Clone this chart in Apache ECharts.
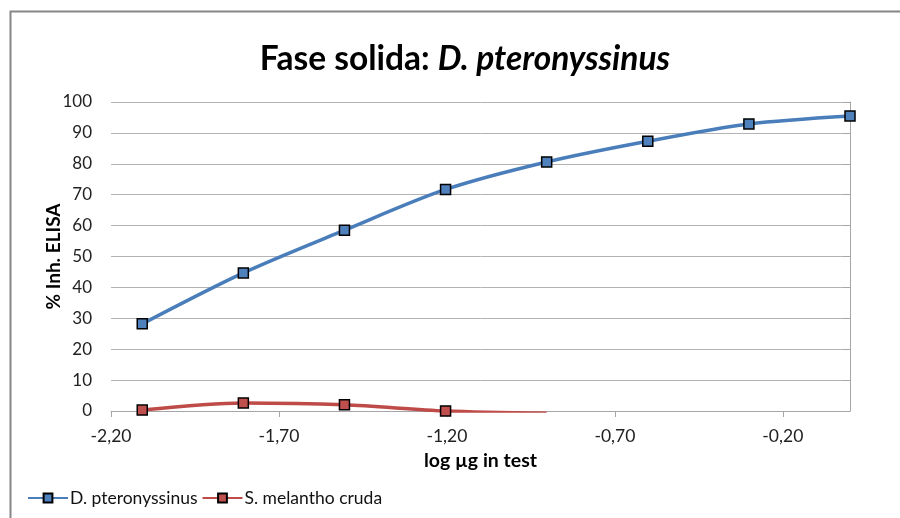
<!DOCTYPE html>
<html>
<head>
<meta charset="utf-8">
<script src="https://cdn.jsdelivr.net/npm/echarts@6/dist/echarts.min.js"></script>
<style>html,body{margin:0;padding:0;background:#fff;}#c{width:900px;height:518px;}</style>
</head>
<body>
<div id="c"></div>
<script>
var xValues = [-2.107, -1.806, -1.505, -1.204, -0.903, -0.602, -0.301, 0];
var dpValues = [28.2, 44.7, 58.5, 71.7, 80.6, 87.3, 92.9, 95.5];
var smValues = [0.3, 2.6, 2.0, 0, -0.7];
var xTicks = [-2.2, -1.7, -1.2, -0.7, -0.2];
var seriesNames = ['D. pteronyssinus', 'S. melantho cruda'];

function pairs(xs, ys) { return ys.map(function (y, i) { return [xs[i], y]; }); }

var FONT = 'Lato, "Open Sans", sans-serif';
var chart = echarts.init(document.getElementById('c'), null, { renderer: 'canvas' });
chart.setOption({
  animation: false,
  backgroundColor: '#fff',
  graphic: [{
    type: 'rect', left: 8, top: 9, shape: { x: 0, y: 0, width: 1000, height: 1000 },
    style: { fill: 'none', stroke: '#868686', lineWidth: 2 }, silent: true
  }],
  title: {
    text: '{a|Fase solida: }{b|D. pteronyssinus}',
    left: 460, top: 37, textAlign: 'center',
    textStyle: {
      rich: {
        a: { fontFamily: FONT, fontWeight: 'bold', fontSize: 33.5, color: '#000' },
        b: { fontFamily: FONT, fontWeight: 'bold', fontStyle: 'italic', fontSize: 33.5, color: '#000' }
      }
    }
  },
  legend: {
    left: 22, top: 484, itemWidth: 40, itemHeight: 11, itemGap: 4,
    textStyle: { fontFamily: FONT, fontSize: 17.5, color: '#111', padding: [0, 0, 0, -3] },
    data: seriesNames
  },
  grid: { left: 111, right: 50, top: 102, bottom: 107 },
  xAxis: {
    type: 'value', min: -2.2, max: 0, interval: 0.5,
    name: 'log µg in test', nameLocation: 'middle', nameGap: 40, nameMoveOverlap: false,
    nameTextStyle: { fontFamily: FONT, fontWeight: 'bold', fontSize: 19.5, color: '#000' },
    axisLine: { show: true, lineStyle: { color: '#a6a6a6', width: 1 } },
    axisTick: { show: true, customValues: xTicks, length: 6, lineStyle: { color: '#a6a6a6' } },
    axisLabel: {
      customValues: xTicks, margin: 16, fontFamily: FONT, fontSize: 17.5, color: '#222',
      formatter: function (v) { return v.toFixed(2).replace('.', ','); }
    },
    splitLine: { show: false }
  },
  yAxis: {
    type: 'value', min: 0, max: 100, interval: 10,
    name: '% Inh. ELISA', nameLocation: 'middle', nameGap: 48, nameMoveOverlap: false,
    nameTextStyle: { fontFamily: FONT, fontWeight: 'bold', fontSize: 19, color: '#000' },
    axisLine: { show: true, lineStyle: { color: '#a6a6a6', width: 1 } },
    axisTick: { show: true, inside: false, length: 7, lineStyle: { color: '#a6a6a6' } },
    axisLabel: { margin: 19, fontFamily: FONT, fontSize: 17, color: '#222' },
    splitLine: { show: true, lineStyle: { color: '#b3b3b3', width: 1 } }
  },
  series: [{
    name: seriesNames[0], type: 'line', smooth: 0.3, clip: true,
    data: pairs(xValues, dpValues),
    symbol: 'rect', symbolSize: 10,
    lineStyle: { color: '#4a7ebb', width: 3.5 },
    itemStyle: { color: '#4f81bd', borderColor: '#000', borderWidth: 1.5 },
    z: 3
  }, {
    name: seriesNames[1], type: 'line', smooth: 0.3, clip: true,
    data: pairs(xValues, smValues),
    symbol: 'rect', symbolSize: 10,
    lineStyle: { color: '#be4b48', width: 3.5 },
    itemStyle: { color: '#c0504d', borderColor: '#000', borderWidth: 1.5 },
    z: 2
  }]
});
</script>
</body>
</html>
